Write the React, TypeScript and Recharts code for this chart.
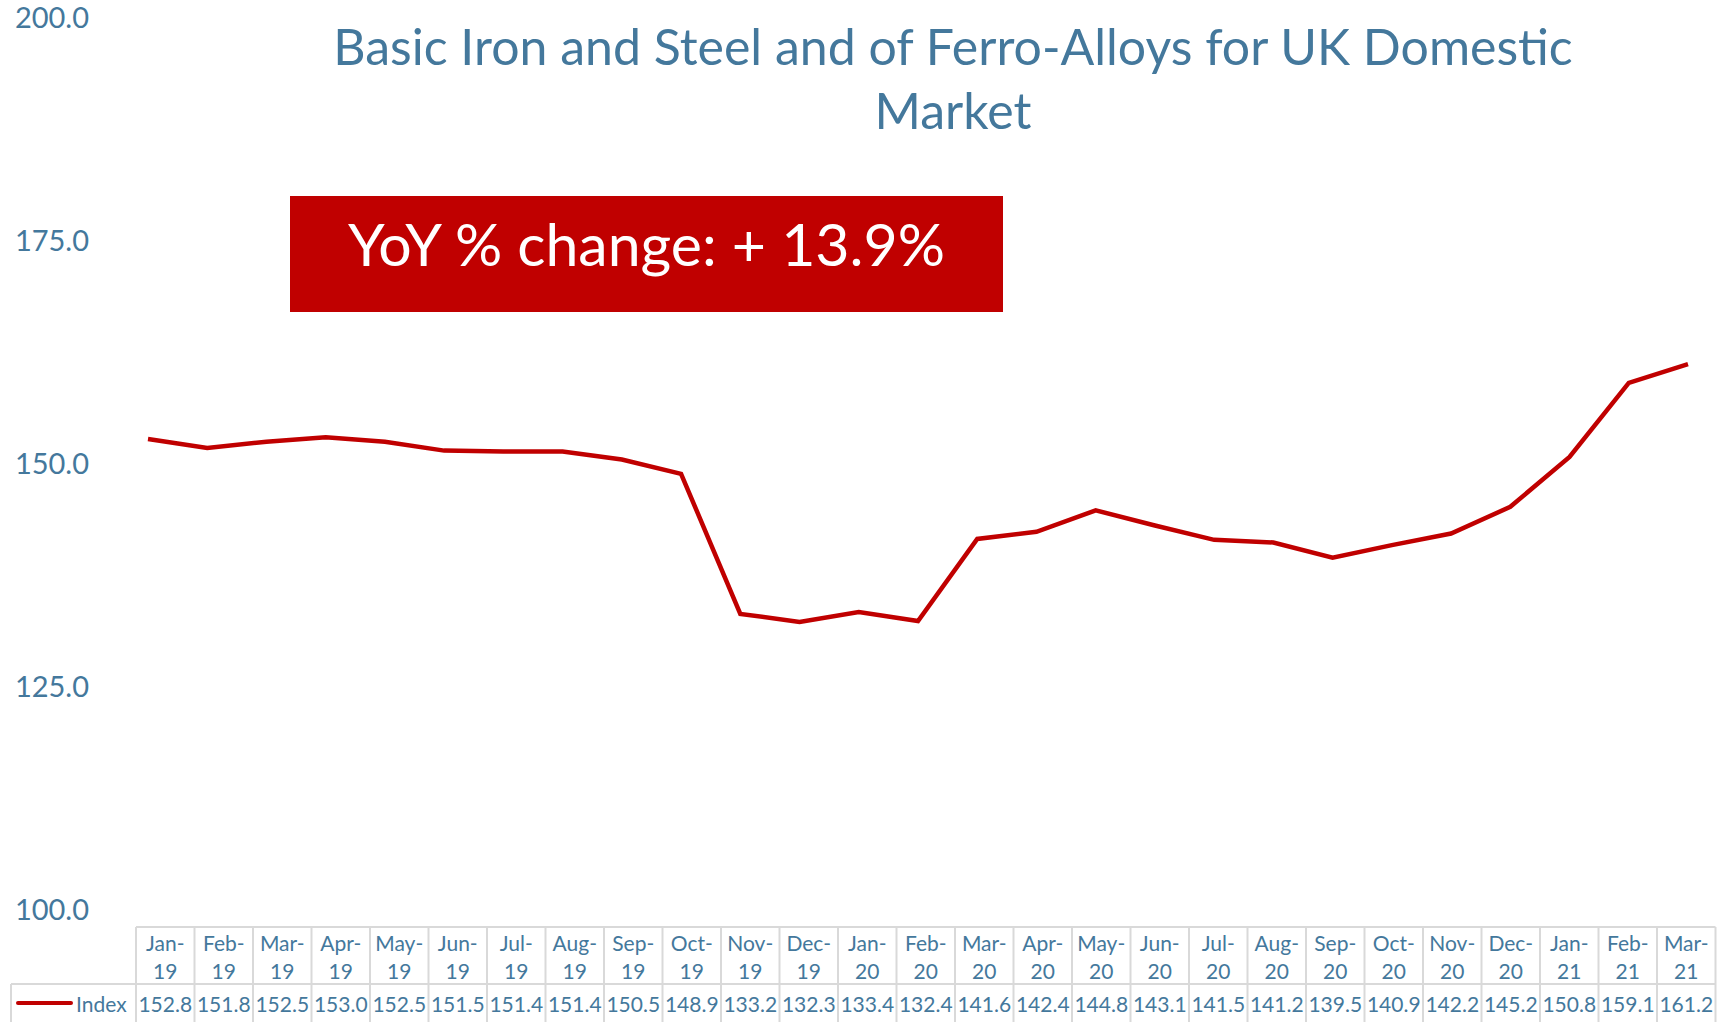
import React from "react";
import { LineChart, Line, XAxis, YAxis } from "recharts";

const months = [
  "Jan-19", "Feb-19", "Mar-19", "Apr-19", "May-19", "Jun-19", "Jul-19", "Aug-19", "Sep-19",
  "Oct-19", "Nov-19", "Dec-19", "Jan-20", "Feb-20", "Mar-20", "Apr-20", "May-20", "Jun-20",
  "Jul-20", "Aug-20", "Sep-20", "Oct-20", "Nov-20", "Dec-20", "Jan-21", "Feb-21", "Mar-21",
];

const indexValues = [
  152.8, 151.8, 152.5, 153.0, 152.5, 151.5, 151.4, 151.4, 150.5, 148.9, 133.2, 132.3, 133.4,
  132.4, 141.6, 142.4, 144.8, 143.1, 141.5, 141.2, 139.5, 140.9, 142.2, 145.2, 150.8, 159.1, 161.2,
];

const yTicks = [100, 125, 150, 175, 200];

const title = ["Basic Iron and Steel and of Ferro-Alloys for UK Domestic", "Market"];
const badgeText = "YoY % change: + 13.9%";
const seriesName = "Index";

const data = months.map((m, i) => ({ month: m, value: indexValues[i] }));

const W = 1727;
const H = 1022;
const BLUE = "#44789c";
const RED = "#c00000";
const FONT = "Lato, 'Open Sans', sans-serif";
const GRID = "#d9d9d9";

// data table geometry
const tableX = 136;
const colW = 58.5;
const headTop = 927;
const rowTop = 984;

function DataTable() {
  const right = tableX + colW * months.length;
  return (
    <g fontFamily={FONT} fill={BLUE}>
      <line x1={tableX} x2={right} y1={headTop} y2={headTop} stroke={GRID} strokeWidth={2} />
      <line x1={11} x2={right} y1={rowTop} y2={rowTop} stroke={GRID} strokeWidth={2} />
      <line x1={11} x2={11} y1={rowTop} y2={H} stroke={GRID} strokeWidth={2} />
      {months.map((m, i) => {
        const x = tableX + i * colW;
        const [mon, yr] = m.split("-");
        return (
          <g key={m}>
            <line x1={x} x2={x} y1={headTop} y2={H} stroke={GRID} strokeWidth={2} />
            <text x={x + colW / 2} y={942} textAnchor="middle" dominantBaseline="central" fontSize={21}>
              {mon + "-"}
            </text>
            <text x={x + colW / 2} y={970} textAnchor="middle" dominantBaseline="central" fontSize={21}>
              {yr}
            </text>
            <text x={x + colW / 2} y={1003} textAnchor="middle" dominantBaseline="central" fontSize={21}>
              {indexValues[i].toFixed(1)}
            </text>
          </g>
        );
      })}
      <line x1={right} x2={right} y1={headTop} y2={H} stroke={GRID} strokeWidth={2} />
      <line x1={18} x2={71} y1={1003} y2={1003} stroke={RED} strokeWidth={4} strokeLinecap="round" />
      <text x={76} y={1003} dominantBaseline="central" fontSize={21}>
        {seriesName}
      </text>
    </g>
  );
}

export default function App() {
  return (
    <div style={{ position: "absolute", left: 0, top: 0, width: W, height: H, background: "#fff" }}>
      <div style={{ position: "absolute", left: 0, top: 0 }}>
        <LineChart width={W} height={H} data={data} margin={{ top: 18, right: 39, bottom: 112, left: 0 }}>
          <XAxis dataKey="month" hide />
          <YAxis
            domain={[100, 200]}
            ticks={yTicks}
            width={148}
            axisLine={false}
            tickLine={false}
            tickSize={0}
            tickMargin={59}
            tickFormatter={(v: number) => v.toFixed(1)}
            tick={{ fill: BLUE, fontSize: 29, fontFamily: FONT }}
          />
          <Line
            type="linear"
            dataKey="value"
            stroke={RED}
            strokeWidth={4.5}
            dot={false}
            isAnimationActive={false}
          />
        </LineChart>
      </div>
      <svg width={W} height={H} style={{ position: "absolute", left: 0, top: 0, pointerEvents: "none" }}>
        <text x={953} y={46} textAnchor="middle" dominantBaseline="central" fontFamily={FONT} fontSize={50} fill={BLUE}>
          {title[0]}
        </text>
        <text x={953} y={110} textAnchor="middle" dominantBaseline="central" fontFamily={FONT} fontSize={50} fill={BLUE}>
          {title[1]}
        </text>
        <rect x={290} y={196} width={713} height={116} fill={RED} />
        <text x={646.5} y={243} textAnchor="middle" dominantBaseline="central" fontFamily={FONT} fontSize={59} fill="#fff">
          {badgeText}
        </text>
        <DataTable />
      </svg>
    </div>
  );
}
